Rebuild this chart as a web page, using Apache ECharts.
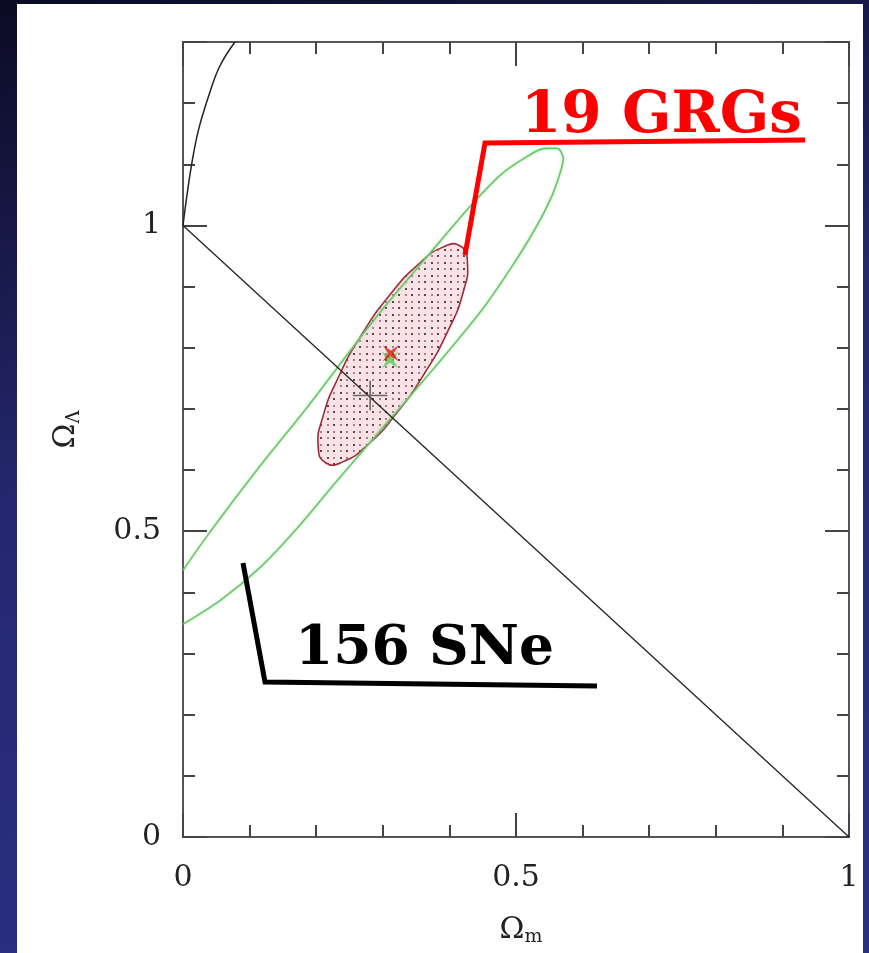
<!DOCTYPE html>
<html>
<head>
<meta charset="utf-8">
<script src="https://cdn.jsdelivr.net/npm/echarts@6/dist/echarts.min.js"></script>
<style>
  html, body { margin: 0; padding: 0; background: #15163f; }
  #chart { width: 869px; height: 953px; }
</style>
</head>
<body>
<div id="chart"></div>
<script>
// Tick values that carry a label
const xLabelTicks = [0, 0.5, 1];
const yLabelTicks = [0, 0.5, 1];

// No-big-bang boundary (upper left corner)
const noBigBang = [[0, 1], [0.0055, 1.046], [0.013, 1.1], [0.023, 1.155], [0.038, 1.21], [0.055, 1.26], [0.078, 1.3]];

// Flat universe: Ω_m + Ω_Λ = 1
const flatLine = [[0, 1], [1, 0]];

// 156 SNe confidence contour (upper branch, tip, lower branch)
const sneContour = [
  [0, 0.436], [0.036, 0.492], [0.111, 0.600], [0.191, 0.709], [0.270, 0.822], [0.308, 0.874],
  [0.386, 0.974], [0.431, 1.031], [0.476, 1.082], [0.514, 1.111], [0.544, 1.126], [0.562, 1.126],
  [0.571, 1.109], [0.566, 1.085], [0.553, 1.046], [0.529, 0.995], [0.494, 0.933], [0.453, 0.868],
  [0.408, 0.807], [0.356, 0.740], [0.291, 0.658], [0.231, 0.582], [0.165, 0.497], [0.116, 0.441],
  [0.056, 0.387], [0, 0.348]
];

// 19 GRGs confidence contour (closed)
const grgContour = [
  [0.417, 0.966], [0.427, 0.941], [0.421, 0.892], [0.398, 0.828], [0.362, 0.757], [0.320, 0.692],
  [0.277, 0.641], [0.239, 0.613], [0.214, 0.612], [0.203, 0.638], [0.210, 0.687], [0.233, 0.751],
  [0.268, 0.821], [0.311, 0.887], [0.354, 0.937], [0.391, 0.965]
];

// Best-fit points
const sneBest = [0.281, 0.722];
const sneBestErr = [0.026, 0.024];
const grgBest = [0.312, 0.791];
const jointBest = [0.311, 0.780];

const serif = 'DejaVu Serif';
const frameColor = '#555';
const tickColor = '#444';

// dotted fill for the GRG region
function dotTile() {
  const c = document.createElement('canvas');
  c.width = 13; c.height = 13;
  const g = c.getContext('2d');
  g.fillStyle = '#fbe2e7';
  g.fillRect(0, 0, 13, 13);
  g.fillStyle = '#55454d';
  g.fillRect(2, 2, 2, 2);
  g.fillRect(8, 8, 2, 2);
  g.fillStyle = '#b07c8a';
  g.fillRect(8, 2, 2, 2);
  g.fillRect(2, 8, 2, 2);
  return c;
}
const tile = dotTile();

function near(v, list) {
  return list.some(t => Math.abs(t - v) < 1e-6);
}

function axisBase(extra) {
  return Object.assign({
    type: 'value',
    splitLine: { show: false },
    axisLine: { show: true, onZero: false, lineStyle: { color: frameColor, width: 2 } },
    axisTick: { show: true, inside: true, length: 12, lineStyle: { color: tickColor, width: 2 } },
    axisLabel: { show: false }
  }, extra);
}

const labelStyle = { fontFamily: serif, fontSize: 30, color: '#222' };
const majorTick = { show: true, inside: true, length: 24, lineStyle: { color: tickColor, width: 2 } };
const minorTick = { show: true, splitNumber: 5, length: 12, lineStyle: { color: tickColor, width: 2 } };
const xStar = 'path://M0,0 L5,3.2 L10,0 L6.8,5 L10,10 L5,6.8 L0,10 L3.2,5 Z';

const chart = echarts.init(document.getElementById('chart'));
chart.setOption({
  animation: false,
  backgroundColor: {
    type: 'linear', x: 0, y: 0, x2: 0.3, y2: 1,
    colorStops: [
      { offset: 0, color: '#0b0b24' },
      { offset: 0.5, color: '#25286f' },
      { offset: 1, color: '#2c2e84' }
    ]
  },
  graphic: [
    { type: 'rect', z: -10, shape: { x: 17, y: 4, width: 846, height: 960 }, style: { fill: '#ffffff' } },
    { type: 'polyline', z: 100, shape: { points: [[465, 255], [485, 143], [805, 140]] },
      style: { stroke: '#ff0000', lineWidth: 5, fill: null } },
    { type: 'text', z: 100, x: 521, y: 117,
      style: { text: '19 GRGs', fill: '#ff0000', font: 'bold 58px "DejaVu Serif"', verticalAlign: 'middle', align: 'left' } },
    { type: 'polyline', z: 100, shape: { points: [[243, 563], [265, 682], [597, 686]] },
      style: { stroke: '#000000', lineWidth: 5, fill: null } },
    { type: 'text', z: 100, x: 295, y: 650,
      style: { text: '156 SNe', fill: '#000000', font: 'bold 55px "DejaVu Serif"', verticalAlign: 'middle', align: 'left' } }
  ],
  grid: { left: 183, right: 20, top: 42, bottom: 116, containLabel: false },
  xAxis: [
    axisBase({
      position: 'bottom', min: 0, max: 1, interval: 0.5,
      axisTick: majorTick, minorTick: minorTick,
      axisLabel: Object.assign({ show: true, margin: 26, formatter: v => near(v, xLabelTicks) ? String(v) : '' }, labelStyle),
      name: '{o|Ω}{s|m}', nameLocation: 'middle', nameGap: 76,
      nameTextStyle: {
        rich: {
          o: { fontFamily: serif, fontSize: 30, lineHeight: 34, color: '#222', padding: [0, 0, 0, 10] },
          s: { fontFamily: serif, fontSize: 19, lineHeight: 14, color: '#222', verticalAlign: 'bottom' }
        }
      }
    }),
    axisBase({ position: 'top', min: 0, max: 1, interval: 0.5, axisTick: majorTick, minorTick: minorTick })
  ],
  yAxis: [
    axisBase({
      position: 'left', min: 0, max: 1.3, interval: 0.1,
      axisLabel: Object.assign({ show: true, margin: 22, formatter: v => near(v, yLabelTicks) ? String(v) : '' }, labelStyle),
      name: '{o|Ω}{s|Λ}', nameLocation: 'middle', nameGap: 100, nameRotate: 90,
      nameTextStyle: {
        rich: {
          o: { fontFamily: serif, fontSize: 30, lineHeight: 34, color: '#222', padding: [0, 0, 0, 20] },
          s: { fontFamily: serif, fontSize: 18, lineHeight: 14, color: '#222', verticalAlign: 'bottom' }
        }
      }
    }),
    axisBase({ position: 'left', min: 0, max: 1.3, interval: 0.5, axisTick: majorTick }),
    axisBase({ position: 'right', min: 0, max: 1.3, interval: 0.1 }),
    axisBase({ position: 'right', min: 0, max: 1.3, interval: 0.5, axisTick: majorTick })
  ],
  series: [
    {
      name: '19 GRGs', type: 'custom', coordinateSystem: 'cartesian2d', clip: true, z: 2,
      data: [grgBest],
      renderItem: function (params, api) {
        const pts = grgContour.map(p => api.coord(p));
        return {
          type: 'polygon',
          shape: { points: pts, smooth: 0.55 },
          style: { fill: { image: tile, repeat: 'repeat' }, stroke: '#a02a3a', lineWidth: 1.6 }
        };
      }
    },
    {
      name: '156 SNe', type: 'line', data: sneContour, smooth: 0.3, showSymbol: false, clip: true, z: 3,
      lineStyle: { color: '#6cc46c', width: 1.6, shadowColor: 'rgba(120,220,120,0.6)', shadowBlur: 3 }
    },
    {
      name: 'flat', type: 'line', data: flatLine, showSymbol: false, clip: true, z: 4,
      lineStyle: { color: '#222', width: 1.3 }
    },
    {
      name: 'no big bang', type: 'line', data: noBigBang, smooth: 0.4, showSymbol: false, clip: true, z: 4,
      lineStyle: { color: '#222', width: 1.5 }
    },
    {
      name: 'SNe best fit', type: 'custom', coordinateSystem: 'cartesian2d', clip: true, z: 5,
      data: [[sneBest[0], sneBest[1], sneBestErr[0], sneBestErr[1]]],
      renderItem: function (params, api) {
        const x = api.value(0), y = api.value(1), ex = api.value(2), ey = api.value(3);
        const l = api.coord([x - ex, y]), r = api.coord([x + ex, y]);
        const b = api.coord([x, y - ey]), t = api.coord([x, y + ey]);
        const st = { stroke: '#666', lineWidth: 1.6 };
        return {
          type: 'group',
          children: [
            { type: 'line', shape: { x1: l[0], y1: l[1], x2: r[0], y2: r[1] }, style: st },
            { type: 'line', shape: { x1: b[0], y1: b[1], x2: t[0], y2: t[1] }, style: st }
          ]
        };
      }
    },
    {
      name: 'joint best fit', type: 'scatter', data: [jointBest], symbol: xStar, symbolSize: 17, z: 6,
      itemStyle: { color: '#4ed24e' }
    },
    {
      name: 'GRG best fit', type: 'scatter', data: [grgBest], symbol: xStar, symbolSize: 16, z: 7,
      itemStyle: { color: '#d42a1a', opacity: 0.85 }
    }
  ]
});
</script>
</body>
</html>
